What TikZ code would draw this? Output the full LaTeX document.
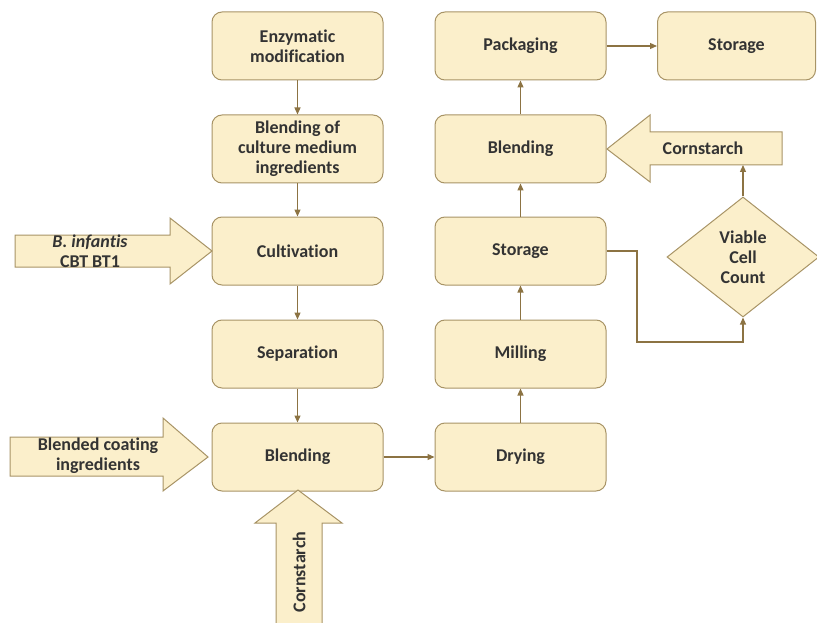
\documentclass[tikz,border=0pt]{standalone}
\usepackage{fontspec}
\setmainfont[Ligatures=NoCommon]{Carlito}
\usetikzlibrary{arrows.meta,shapes.geometric}
\definecolor{boxfill}{HTML}{FBEFCB}
\definecolor{boxline}{HTML}{A89466}
\definecolor{conn}{HTML}{8C7343}
\definecolor{txt}{HTML}{333333}
\begin{document}
\begin{tikzpicture}[x=1pt,y=1pt,
  stepbox/.style={draw=boxline,fill=boxfill,line width=1pt,rounded corners=10pt,
    minimum width=171pt,minimum height=68pt,align=center,text=txt,inner sep=0pt,
    font=\fontsize{18}{20}\selectfont\bfseries},
  conn/.style={draw=conn,line width=1.2pt,-{Triangle[length=7pt,width=6pt]}},
  bigarrow/.style={draw=boxline,fill=boxfill,line width=1pt,line join=miter},
  lab/.style={text=txt,align=center,font=\fontsize{18}{20}\selectfont\bfseries}]
\useasboundingbox (0,0) rectangle (817,-623);
% left column
\node[stepbox] (enz) at (297.5,-46) {Enzymatic\\modification};
\node[stepbox] (bcm) at (297.5,-149) {Blending of\\culture medium\\ingredients};
\node[stepbox] (cult) at (297.5,-251) {Cultivation};
\node[stepbox] (sep) at (297.5,-354) {Separation};
\node[stepbox] (blend1) at (297.5,-457) {Blending};
% middle column
\node[stepbox] (pack) at (520.5,-46) {Packaging};
\node[stepbox] (blend2) at (520.5,-149) {Blending};
\node[stepbox] (stor1) at (520.5,-251) {Storage};
\node[stepbox] (mill) at (520.5,-354) {Milling};
\node[stepbox] (dry) at (520.5,-457) {Drying};
% right
\node[stepbox,minimum width=158pt,anchor=west] (stor2) at (657,-46) {Storage};
\node[draw=boxline,fill=boxfill,line width=1pt,diamond,aspect=1.27,minimum width=152pt,minimum height=120pt,
  align=center,text=txt,font=\fontsize{18}{20}\selectfont\bfseries,inner sep=0pt] (vcc) at (743,-257) {Viable\\Cell\\Count};
% big arrows
\draw[bigarrow] (15,-235) -- (170,-235) -- (170,-218) -- (212,-251) -- (170,-284) -- (170,-267) -- (15,-267) -- cycle;
\node[lab] (binf) at (90,-251) {\itshape B. infantis\\CBT BT1};
\draw[bigarrow] (10,-437) -- (163,-437) -- (163,-418) -- (208,-457) -- (163,-491) -- (163,-476) -- (10,-476) -- cycle;
\node[lab] (bci) at (98,-456) {Blended coating\\ingredients};
\draw[bigarrow] (276,-624) -- (276,-523) -- (255,-523) -- (298,-490) -- (342,-523) -- (322,-523) -- (322,-624);
\node[lab,rotate=90] (cs1) at (299,-572) {Cornstarch};
\draw[bigarrow] (782,-132) -- (650,-132) -- (650,-115) -- (607,-149) -- (650,-182) -- (650,-165) -- (782,-165) -- cycle;
\node[lab] (cs2) at (703,-148) {Cornstarch};
\coordinate (csb) at (743,-165);
% connectors
\draw[conn] (enz) -- (bcm);
\draw[conn] (bcm) -- (cult);
\draw[conn] (cult) -- (sep);
\draw[conn] (sep) -- (blend1);
\draw[conn] (blend1) -- (dry);
\draw[conn] (dry) -- (mill);
\draw[conn] (mill) -- (stor1);
\draw[conn] (stor1) -- (blend2);
\draw[conn] (blend2) -- (pack);
\draw[conn] (pack) -- (stor2);
\draw[conn] (vcc.north) -- (csb);
\draw[conn] (stor1.east) -- (637,-251) -- (637,-342) -- (vcc.south |- 0,-342) -- (vcc.south);
\end{tikzpicture}
\end{document}
